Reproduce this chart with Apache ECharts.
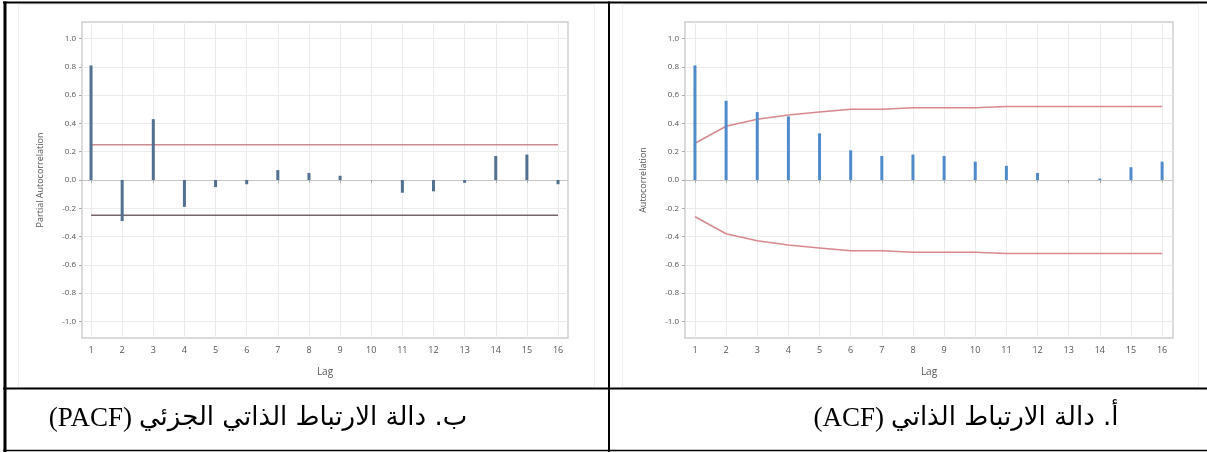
<!DOCTYPE html>
<html>
<head>
<meta charset="utf-8">
<script src="https://cdn.jsdelivr.net/npm/echarts@6/dist/echarts.min.js"></script>
<style>
html,body{margin:0;padding:0;background:#fff;}
#chart{width:1207px;height:452px;}
</style>
</head>
<body>
<div id="chart"></div>
<script>
// ---- data ----
const lags = [1,2,3,4,5,6,7,8,9,10,11,12,13,14,15,16];
const yTicks = [-1.0,-0.8,-0.6,-0.4,-0.2,0.0,0.2,0.4,0.6,0.8,1.0];
const pacfValues = [0.81,-0.29,0.43,-0.19,-0.05,-0.03,0.07,0.05,0.03,0.00,-0.09,-0.08,-0.02,0.17,0.18,-0.03];
const pacfUpper = [0.25,0.25,0.25,0.25,0.25,0.25,0.25,0.25,0.25,0.25,0.25,0.25,0.25,0.25,0.25,0.25];
const pacfLower = [-0.25,-0.25,-0.25,-0.25,-0.25,-0.25,-0.25,-0.25,-0.25,-0.25,-0.25,-0.25,-0.25,-0.25,-0.25,-0.25];
const acfValues = [0.81,0.56,0.48,0.45,0.33,0.21,0.17,0.18,0.17,0.13,0.10,0.05,0.00,0.01,0.09,0.13];
const acfUpper = [0.26,0.38,0.43,0.46,0.48,0.50,0.50,0.51,0.51,0.51,0.52,0.52,0.52,0.52,0.52,0.52];
const acfLower = [-0.26,-0.38,-0.43,-0.46,-0.48,-0.50,-0.50,-0.51,-0.51,-0.51,-0.52,-0.52,-0.52,-0.52,-0.52,-0.52];
const pacfTitle = 'Partial Autocorrelation';
const acfTitle = 'Autocorrelation';
const xTitle = 'Lag';
const captionLeftArabic = 'ب. دالة الارتباط الذاتي الجزئي';
const captionLeftLatin = '(PACF)';
const captionRightArabic = 'أ. دالة الارتباط الذاتي';
const captionRightLatin = '(ACF)';

// ---- build ----
const pairs = (xs, ys) => xs.map((x, i) => [x, ys[i]]);
const labelColor = '#555';
const latinFont = '27px "Liberation Serif", serif';
const arabicFont = '26px "DejaVu Sans", sans-serif';

function xAxis(gi, min, max) {
  return {
    gridIndex: gi, type: 'value', min: min, max: max,
    axisLine: {show: false},
    splitLine: {show: false},
    axisTick: {show: true, customValues: lags, length: 3, lineStyle: {color: '#aaa'}},
    axisLabel: {customValues: lags, fontSize: 9, color: labelColor, margin: 8, fontFamily: 'Open Sans'},
    name: xTitle, nameLocation: 'middle', nameGap: 29,
    nameTextStyle: {fontSize: 10, color: labelColor, fontFamily: 'Open Sans'}
  };
}
function yAxis(gi, title) {
  return {
    gridIndex: gi, type: 'value', min: -1.117, max: 1.117,
    axisLine: {show: false},
    splitLine: {show: false},
    axisTick: {show: true, customValues: yTicks, length: 3, lineStyle: {color: '#aaa'}},
    axisLabel: {customValues: yTicks, fontSize: 8, color: labelColor, margin: 6, fontFamily: 'Open Sans',
      formatter: v => v.toFixed(1)},
    name: title, nameLocation: 'middle', nameGap: 37,
    nameTextStyle: {fontSize: 9, color: labelColor, fontFamily: 'Open Sans'}
  };
}
function gridSeries(gi) {
  const d = lags.map(l => ({xAxis: l})).concat(yTicks.filter(v => v !== 0).map(v => ({yAxis: v})));
  return {
    type: 'line', xAxisIndex: gi, yAxisIndex: gi, data: [[lags[0], 0]], showSymbol: false,
    lineStyle: {opacity: 0}, silent: true, z: 0,
    markLine: {z: 0, silent: true, symbol: 'none', animation: false, label: {show: false},
      lineStyle: {color: '#ebebeb', width: 1, type: 'solid'},
      data: d.concat([{yAxis: 0, lineStyle: {color: '#c6c6c6', width: 1}}])}
  };
}
const measureCtx = document.createElement('canvas').getContext('2d');
function textWidth(str, font) { measureCtx.font = font; return measureCtx.measureText(str).width; }
// caption laid out right-to-left around a centre point
function caption(cx, y, arabic, latin) {
  const gap = 7;
  const wa = textWidth(arabic, arabicFont), wl = textWidth(latin, latinFont);
  const total = wa + gap + wl;
  const right = cx + total / 2;
  return [
    {type: 'text', z: 100, x: right, y: y,
     style: {text: '\u202B' + arabic + '\u202C', fill: '#000', align: 'right', verticalAlign: 'middle', font: arabicFont}},
    {type: 'text', z: 100, x: right - wa - gap, y: y + 1,
     style: {text: latin, fill: '#000', align: 'right', verticalAlign: 'middle', font: latinFont}}
  ];
}

const option = {
  animation: false,
  grid: [
    {left: 82, top: 22, width: 486, height: 316, show: true, borderColor: '#cfcfcf', borderWidth: 1.5, backgroundColor: 'transparent'},
    {left: 685, top: 22, width: 488, height: 316, show: true, borderColor: '#cfcfcf', borderWidth: 1.5, backgroundColor: 'transparent'}
  ],
  xAxis: [xAxis(0, 0.71, 16.32), xAxis(1, 0.68, 16.35)],
  yAxis: [yAxis(0, pacfTitle), yAxis(1, acfTitle)],
  series: [
    gridSeries(0), gridSeries(1),
    {type: 'line', xAxisIndex: 0, yAxisIndex: 0, data: pairs(lags, pacfUpper), showSymbol: false, z: 3,
     lineStyle: {color: '#cf8a90', width: 1.5}},
    {type: 'line', xAxisIndex: 0, yAxisIndex: 0, data: pairs(lags, pacfLower), showSymbol: false, z: 3,
     lineStyle: {color: '#75656e', width: 1.5}},
    {type: 'bar', xAxisIndex: 0, yAxisIndex: 0, data: pairs(lags, pacfValues), barWidth: 3, z: 4,
     itemStyle: {color: '#52708f'}},
    {type: 'line', xAxisIndex: 1, yAxisIndex: 1, data: pairs(lags, acfUpper), showSymbol: false, z: 3,
     lineStyle: {color: '#d9898d', width: 1.5}},
    {type: 'line', xAxisIndex: 1, yAxisIndex: 1, data: pairs(lags, acfLower), showSymbol: false, z: 3,
     lineStyle: {color: '#d9898d', width: 1.5}},
    {type: 'bar', xAxisIndex: 1, yAxisIndex: 1, data: pairs(lags, acfValues), barWidth: 3, z: 4,
     itemStyle: {color: '#4f8bcb'}}
  ],
  graphic: [
    // picture frames
    {type: 'rect', z: -10, shape: {x: 18.5, y: 4.5, width: 576, height: 383}, style: {fill: '#fff', stroke: '#eeeeee', lineWidth: 1}},
    {type: 'rect', z: -10, shape: {x: 622.5, y: 4.5, width: 576, height: 383}, style: {fill: '#fff', stroke: '#eeeeee', lineWidth: 1}},
    // table borders
    {type: 'line', z: 100, shape: {x1: 3, y1: 2.5, x2: 1207, y2: 2.5}, style: {stroke: '#000', lineWidth: 2}},
    {type: 'line', z: 100, shape: {x1: 5, y1: 1.5, x2: 5, y2: 452}, style: {stroke: '#000', lineWidth: 3}},
    {type: 'line', z: 100, shape: {x1: 609, y1: 1.5, x2: 609, y2: 452}, style: {stroke: '#000', lineWidth: 2}},
    {type: 'line', z: 100, shape: {x1: 3, y1: 388.5, x2: 1207, y2: 388.5}, style: {stroke: '#000', lineWidth: 2}},
    {type: 'line', z: 100, shape: {x1: 3, y1: 450.5, x2: 1207, y2: 450.5}, style: {stroke: '#000', lineWidth: 1.5}}
  ].concat(caption(258, 418, captionLeftArabic, captionLeftLatin))
   .concat(caption(966, 418, captionRightArabic, captionRightLatin))
};

const chart = echarts.init(document.getElementById('chart'), null, {renderer: 'canvas'});
chart.setOption(option);
</script>
</body>
</html>
